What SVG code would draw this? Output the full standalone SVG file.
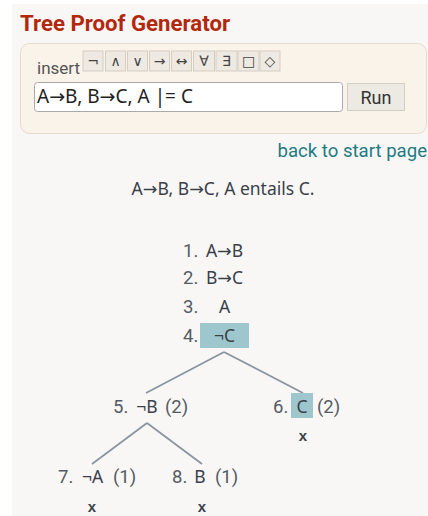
<svg xmlns="http://www.w3.org/2000/svg" width="428" height="516" viewBox="0 0 428 516">
<style>
.ui{font-family:Roboto,"Liberation Sans",sans-serif}
.f{font-family:"Noto Sans","Open Sans","DejaVu Sans",sans-serif;fill:#3a3f4a;font-size:17.5px}
.n{font-family:Roboto,"Liberation Sans",sans-serif;fill:#555b63;font-size:18.5px}
.btn{fill:#eeeae2;stroke:#d3cdc2;stroke-width:1}
.bt{font-family:"DejaVu Sans",sans-serif;font-size:14px;fill:#444;text-anchor:middle}
.x{font-family:"Liberation Sans",Arial,sans-serif;font-weight:bold;font-size:15px;fill:#3a3f4a;text-anchor:middle}
.edge{stroke:#8b95a1;stroke-width:1.8;fill:none}
.hl{fill:#9dc7cd}
</style>
<rect x="0" y="0" width="428" height="516" fill="#ffffff"/>
<rect x="12" y="4" width="416" height="512" fill="#f8f7f5"/>
<g id="header">
<text class="ui" x="20" y="31" font-size="22.2" font-weight="bold" fill="#b3270d">Tree Proof Generator</text>
</g>
<g id="panel">
<rect x="20.5" y="43.5" width="406" height="90" rx="9" fill="#f9f3ea" stroke="#e5dccd"/>
<text class="ui" x="37" y="74" font-size="17" fill="#555">insert</text>
<rect class="btn" x="83" y="51" width="20" height="20"/><text class="bt" x="93" y="66">¬</text>
<rect class="btn" x="105.5" y="51" width="20" height="20"/><text class="bt" x="115.5" y="66">∧</text>
<rect class="btn" x="127.5" y="51" width="20" height="20"/><text class="bt" x="137.5" y="66">∨</text>
<rect class="btn" x="149.5" y="51" width="20" height="20"/><text class="bt" x="159.5" y="66">→</text>
<rect class="btn" x="171.5" y="51" width="20" height="20"/><text class="bt" x="181.5" y="66">↔</text>
<rect class="btn" x="193.5" y="51" width="21" height="20"/><text class="bt" x="204" y="66">∀</text>
<rect class="btn" x="216" y="51" width="21" height="20"/><text class="bt" x="226.5" y="66">∃</text>
<rect class="btn" x="238" y="51" width="21" height="20"/><text class="bt" x="248.5" y="66">□</text>
<rect class="btn" x="260" y="51" width="20" height="20"/><text class="bt" x="270" y="66">◇</text>
<rect x="34.5" y="82.5" width="308" height="29" rx="3" fill="#ffffff" stroke="#a9a9a9"/>
<text class="f" x="37" y="103" font-size="19" fill="#222" style="font-size:19px;fill:#222">A→B, B→C, A |= C</text>
<rect x="347.5" y="83.5" width="57" height="27" fill="#edeae3" stroke="#d3cdc2"/>
<text class="ui" x="376" y="104" font-size="18" fill="#333" text-anchor="middle">Run</text>
</g>
<g id="links">
<text class="ui" x="427" y="157" font-size="18.6" fill="#1d7b83" text-anchor="end">back to start page</text>
<text class="f" x="223" y="195" text-anchor="middle">A→B, B→C, A entails C.</text>
</g>
<g id="connectors">
<line class="edge" x1="224" y1="352" x2="146" y2="393"/>
<line class="edge" x1="224" y1="352" x2="303" y2="393"/>
<line class="edge" x1="147" y1="423" x2="92" y2="464"/>
<line class="edge" x1="147" y1="423" x2="202" y2="464"/>
</g>
<g id="node1"><text class="n" x="183" y="257">1.</text><text class="f" x="224.5" y="257" text-anchor="middle">A→B</text></g>
<g id="node2"><text class="n" x="183" y="284">2.</text><text class="f" x="224.5" y="284" text-anchor="middle">B→C</text></g>
<g id="node3"><text class="n" x="183" y="313">3.</text><text class="f" x="224.5" y="313" text-anchor="middle">A</text></g>
<g id="node4"><text class="n" x="183" y="342">4.</text><rect class="hl" x="200" y="323" width="49" height="25"/><text class="f" x="224.5" y="342" text-anchor="middle">¬C</text></g>
<g id="node5"><text class="n" x="113" y="413">5.</text><text class="f" x="147" y="413" text-anchor="middle">¬B</text><text class="n" x="165" y="413">(2)</text></g>
<g id="node6"><text class="n" x="273" y="413">6.</text><rect class="hl" x="291" y="393" width="22" height="25"/><text class="f" x="302" y="413" text-anchor="middle">C</text><text class="n" x="317" y="413">(2)</text><text class="x" x="303" y="441">x</text></g>
<g id="node7"><text class="n" x="58" y="483">7.</text><text class="f" x="92.5" y="483" text-anchor="middle">¬A</text><text class="n" x="113" y="483">(1)</text><text class="x" x="92" y="512">x</text></g>
<g id="node8"><text class="n" x="172" y="483">8.</text><text class="f" x="200" y="483" text-anchor="middle">B</text><text class="n" x="215" y="483">(1)</text><text class="x" x="202" y="512">x</text></g>
</svg>
